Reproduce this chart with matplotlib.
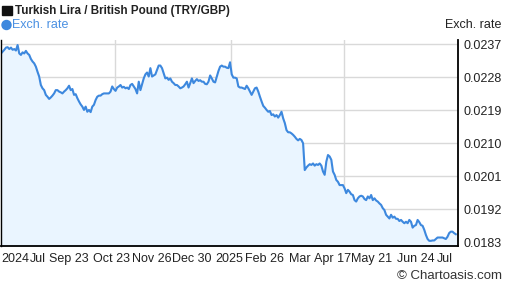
import numpy as np
import pandas as pd
import matplotlib
matplotlib.use('Agg')
import matplotlib.pyplot as plt
from matplotlib.patches import Rectangle, Ellipse

plt.rcParams['font.family'] = ['Liberation Sans', 'DejaVu Sans']

# TRY/GBP exchange rate (roughly every 1.3 days)
rates = [
    0.02345, 0.02350, 0.02355, 0.02361, 0.02362, 0.02357, 0.02361, 0.02355, 0.02357, 0.02353,
    0.02368, 0.02345, 0.02341, 0.02348, 0.02345, 0.02352, 0.02345, 0.02341, 0.02330, 0.02323,
    0.02318, 0.02309, 0.02295, 0.02282, 0.02259, 0.02250, 0.02245, 0.02232, 0.02227, 0.02221,
    0.02225, 0.02230, 0.02236, 0.02245, 0.02245, 0.02241, 0.02239, 0.02236, 0.02241, 0.02245,
    0.02250, 0.02257, 0.02245, 0.02248, 0.02232, 0.02234, 0.02223, 0.02214, 0.02206, 0.02200,
    0.02191, 0.02200, 0.02186, 0.02191, 0.02185, 0.02200, 0.02205, 0.02218, 0.02227, 0.02230,
    0.02230, 0.02234, 0.02236, 0.02236, 0.02236, 0.02236, 0.02241, 0.02255, 0.02248, 0.02243,
    0.02252, 0.02255, 0.02259, 0.02252, 0.02254, 0.02250, 0.02252, 0.02248, 0.02259, 0.02262,
    0.02255, 0.02248, 0.02236, 0.02268, 0.02245, 0.02261, 0.02277, 0.02288, 0.02293, 0.02282,
    0.02305, 0.02282, 0.02285, 0.02288, 0.02300, 0.02312, 0.02312, 0.02305, 0.02291, 0.02277,
    0.02279, 0.02273, 0.02277, 0.02268, 0.02264, 0.02259, 0.02259, 0.02255, 0.02250, 0.02252,
    0.02255, 0.02261, 0.02268, 0.02252, 0.02264, 0.02277, 0.02264, 0.02270, 0.02275, 0.02270,
    0.02272, 0.02268, 0.02268, 0.02262, 0.02261, 0.02268, 0.02285, 0.02277, 0.02268, 0.02266,
    0.02282, 0.02297, 0.02309, 0.02312, 0.02309, 0.02309, 0.02306, 0.02305, 0.02321, 0.02288,
    0.02279, 0.02279, 0.02277, 0.02255, 0.02252, 0.02252, 0.02250, 0.02248, 0.02257, 0.02250,
    0.02241, 0.02232, 0.02241, 0.02250, 0.02252, 0.02241, 0.02227, 0.02214, 0.02202, 0.02197,
    0.02191, 0.02186, 0.02188, 0.02177, 0.02179, 0.02173, 0.02177, 0.02170, 0.02177, 0.02186,
    0.02168, 0.02155, 0.02136, 0.02130, 0.02130, 0.02127, 0.02123, 0.02118, 0.02112, 0.02108,
    0.02112, 0.02109, 0.02100, 0.02027, 0.02034, 0.02039, 0.02043, 0.02041, 0.02045, 0.02039,
    0.02043, 0.02041, 0.02045, 0.02039, 0.02023, 0.02014, 0.02050, 0.02068, 0.02064, 0.02055,
    0.02023, 0.02014, 0.02000, 0.01995, 0.01986, 0.01986, 0.01986, 0.01977, 0.01964, 0.01973,
    0.01968, 0.01961, 0.01959, 0.01945, 0.01941, 0.01950, 0.01955, 0.01957, 0.01955, 0.01948,
    0.01945, 0.01955, 0.01950, 0.01959, 0.01945, 0.01950, 0.01944, 0.01941, 0.01936, 0.01932,
    0.01923, 0.01918, 0.01905, 0.01900, 0.01895, 0.01905, 0.01897, 0.01900, 0.01894, 0.01894,
    0.01888, 0.01891, 0.01886, 0.01882, 0.01886, 0.01882, 0.01891, 0.01886, 0.01870, 0.01875,
    0.01877, 0.01891, 0.01885, 0.01877, 0.01875, 0.01864, 0.01850, 0.01839, 0.01834, 0.01834,
    0.01835, 0.01835, 0.01839, 0.01843, 0.01843, 0.01843, 0.01843, 0.01841, 0.01839, 0.01845,
    0.01855, 0.01859, 0.01859, 0.01855, 0.01852,
]
dates = pd.date_range('2024-07-02', '2025-06-29', periods=len(rates))

ytick_vals = [0.0183, 0.0192, 0.0201, 0.0210, 0.0219, 0.0228, 0.0237]
grid_dates = ['2024-10-01', '2025-01-01', '2025-04-01']
xtick_dates = ['2024-07-13', '2024-07-31', '2024-08-25', '2024-09-28', '2024-10-30',
               '2024-12-01', '2024-12-31', '2025-01-28', '2025-02-25', '2025-03-23',
               '2025-04-23', '2025-05-28', '2025-06-20']
xtick_labels = ['2024', 'Jul', 'Sep 23', 'Oct 23', 'Nov 26', 'Dec 30', '2025',
                'Feb 26', 'Mar', 'Apr 17', 'May 21', 'Jun 24', 'Jul']

W, H = 507, 288
fig = plt.figure(figsize=(W / 100, H / 100), dpi=100)
ax = fig.add_axes([1 / W, 1 - 245.7 / H, 457.3 / W, 205.7 / H])

ax.set_xlim(pd.Timestamp('2024-07-02'), pd.Timestamp('2025-07-01'))
ax.set_ylim(0.018207, 0.023817)

for v in ytick_vals[1:]:
    ax.axhline(v, color='#d9d9d9', lw=1, zorder=0)
for d in grid_dates:
    ax.axvline(pd.Timestamp(d), color='#d9d9d9', lw=1, zorder=0)

ax.fill_between(dates, rates, 0.0182, color='#eaf5ff', zorder=1)
ax.plot(dates, rates, color='#3d88de', lw=1.5, zorder=2)

ax.yaxis.tick_right()
ax.set_yticks(ytick_vals)
ax.set_yticklabels(['%.4f' % v for v in ytick_vals])
ax.set_xticks([pd.Timestamp(d) for d in xtick_dates])
ax.set_xticklabels(xtick_labels)
ax.tick_params(axis='both', length=0, labelsize=9, labelcolor='#222222')
ax.tick_params(axis='y', pad=4)
ax.tick_params(axis='x', pad=5)

ax.spines['top'].set_visible(False)
for s in ['left', 'right', 'bottom']:
    ax.spines[s].set_color('black')
    ax.spines[s].set_linewidth(1)
ax.spines['right'].set_linewidth(1.3)
ax.spines['bottom'].set_linewidth(1.3)

# title with black square marker
fig.add_artist(Rectangle((2 / W, 1 - 15 / H), 10 / W, 9 / H, transform=fig.transFigure,
                         color='#111111'))
fig.text(15 / W, 1 - 11 / H, 'Turkish Lira / British Pound (TRY/GBP)', fontsize=8.4,
         fontweight='bold', color='#222222', va='center', ha='left')
# legend
fig.add_artist(Ellipse((6.5 / W, 1 - 25 / H), 9 / W, 9 / H, transform=fig.transFigure,
                       color='#3d88de'))
fig.text(12 / W, 1 - 25 / H, 'Exch. rate', fontsize=9, color='#4a90e2', va='center', ha='left')
fig.text(501 / W, 1 - 25 / H, 'Exch. rate', fontsize=9, color='#222222', va='center', ha='right')
fig.text(502 / W, 1 - 276 / H, '\u00a9 Chartoasis.com', fontsize=9.5, color='#333333',
         va='center', ha='right')

fig.savefig('out.png', dpi=100)
